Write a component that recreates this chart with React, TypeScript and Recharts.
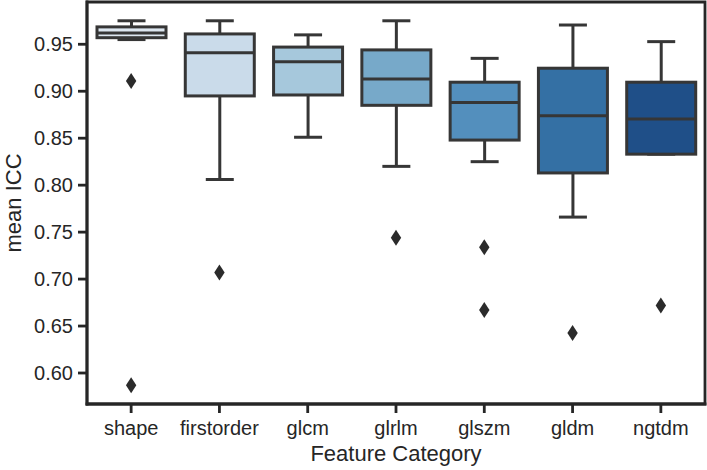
import { ComposedChart, Bar, Scatter, XAxis, YAxis, Label, ReferenceArea } from "recharts";

const CATEGORIES = ["shape", "firstorder", "glcm", "glrlm", "glszm", "gldm", "ngtdm"];
const WHISKER_LOW = [0.955, 0.806, 0.851, 0.82, 0.825, 0.766, 0.833];
const Q1 = [0.957, 0.895, 0.896, 0.885, 0.848, 0.813, 0.833];
const MEDIAN = [0.962, 0.941, 0.9315, 0.913, 0.888, 0.874, 0.8705];
const Q3 = [0.9685, 0.961, 0.947, 0.944, 0.9096, 0.9245, 0.9096];
const WHISKER_HIGH = [0.975, 0.975, 0.96, 0.975, 0.935, 0.9705, 0.9528];

const OUTLIER_CATS = ["shape", "shape", "firstorder", "glrlm", "glszm", "glszm", "gldm", "ngtdm"];
const OUTLIER_VALUES = [0.911, 0.587, 0.707, 0.744, 0.734, 0.667, 0.6425, 0.672];

const Y_TICKS = [0.6, 0.65, 0.7, 0.75, 0.8, 0.85, 0.9, 0.95];
const Y_MIN = 0.567;
const Y_MAX = 0.995;

const BOX_COLORS = ["#dde7f0", "#cadbea", "#a6c8dc", "#77a9c9", "#538fbd", "#3470a4", "#1f4f88"];
const INK = "#363636";
const TEXT = "#262626";
const FONT = "'Liberation Sans', Arial, sans-serif";

const boxData = CATEGORIES.map((name, i) => ({
  name,
  range: [WHISKER_LOW[i], WHISKER_HIGH[i]],
  q1: Q1[i],
  median: MEDIAN[i],
  q3: Q3[i],
}));

const outlierData = OUTLIER_CATS.map((name, i) => ({ name, value: OUTLIER_VALUES[i] }));

// the bar spans whisker-to-whisker; the rest is mapped inside that pixel span
function BoxShape(props: any) {
  const { x, y, width, height, payload, index } = props;
  const top = Math.min(y, y + height);
  const bottom = Math.max(y, y + height);
  const [lo, hi] = payload.range;
  const toPx = (v: number) => (hi === lo ? top : top + ((hi - v) / (hi - lo)) * (bottom - top));
  const cx = x + width / 2;
  const capHalf = 14;
  const yQ1 = toPx(payload.q1);
  const yQ3 = toPx(payload.q3);
  const yMed = toPx(payload.median);
  return (
    <g stroke={INK} strokeWidth={3}>
      <line x1={cx} x2={cx} y1={top} y2={yQ3} />
      <line x1={cx} x2={cx} y1={yQ1} y2={bottom} />
      <line x1={cx - capHalf} x2={cx + capHalf} y1={top} y2={top} />
      <line x1={cx - capHalf} x2={cx + capHalf} y1={bottom} y2={bottom} />
      <rect x={x} y={yQ3} width={width} height={yQ1 - yQ3} fill={BOX_COLORS[index]} />
      <line x1={x} x2={x + width} y1={yMed} y2={yMed} />
    </g>
  );
}

function Diamond(props: any) {
  const { cx, cy } = props;
  if (cx == null || cy == null) return null;
  const w = 5.2;
  const h = 8;
  return <path d={`M${cx},${cy - h}L${cx + w},${cy}L${cx},${cy + h}L${cx - w},${cy}Z`} fill="#2b2b2b" />;
}

const spine = { stroke: TEXT, strokeWidth: 2.8, strokeLinecap: "square" as const };
const tickLine = { stroke: TEXT, strokeWidth: 2.8 };
const tickStyle = { fill: TEXT, fontSize: 20, fontFamily: FONT };

export default function App() {
  return (
    <div style={{ position: "absolute", left: 0, top: 0, background: "#fff" }}>
      <ComposedChart
        width={707}
        height={470}
        data={boxData}
        margin={{ top: 2, right: 2, bottom: 0, left: 0 }}
      >
        <XAxis
          dataKey="name"
          allowDuplicatedCategory={false}
          height={66}
          axisLine={spine}
          tickLine={tickLine}
          tickSize={9}
          tickMargin={8}
          tick={tickStyle}
        >
          <Label
            content={(p: any) => (
              <text
                x={p.viewBox.x + p.viewBox.width / 2}
                y={461}
                textAnchor="middle"
                fill={TEXT}
                fontSize={22}
                fontFamily={FONT}
              >
                Feature Category
              </text>
            )}
          />
        </XAxis>
        <YAxis
          type="number"
          domain={[Y_MIN, Y_MAX]}
          allowDataOverflow
          ticks={Y_TICKS}
          tickFormatter={(v: number) => v.toFixed(2)}
          width={87}
          axisLine={spine}
          tickLine={tickLine}
          tickSize={9}
          tickMargin={5}
          tick={tickStyle}
        >
          <Label
            content={(p: any) => {
              const lx = 21;
              const ly = p.viewBox.y + p.viewBox.height / 2;
              return (
                <text
                  x={lx}
                  y={ly}
                  transform={`rotate(-90, ${lx}, ${ly})`}
                  textAnchor="middle"
                  fill={TEXT}
                  fontSize={22}
                  fontFamily={FONT}
                >
                  mean ICC
                </text>
              );
            }}
          />
        </YAxis>
        {/* full frame (top and right spines) */}
        <ReferenceArea y1={Y_MIN} y2={Y_MAX} fill="none" fillOpacity={0} stroke={TEXT} strokeWidth={2.8} />
        <Bar dataKey="range" barSize={69} shape={BoxShape} isAnimationActive={false} />
        <Scatter data={outlierData} dataKey="value" shape={Diamond} isAnimationActive={false} />
      </ComposedChart>
    </div>
  );
}
